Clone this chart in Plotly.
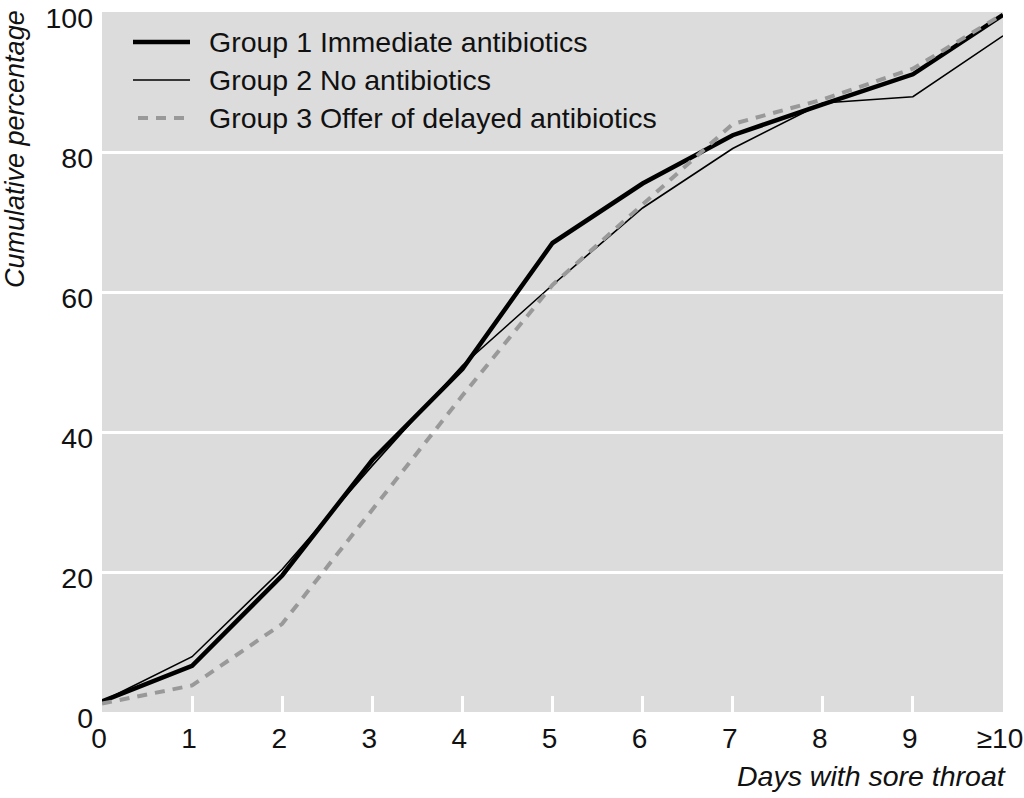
import plotly.graph_objects as go

days = [0, 1, 2, 3, 4, 5, 6, 7, 8, 9, 10]
x_tick_labels = ["0", "1", "2", "3", "4", "5", "6", "7", "8", "9", "≥10"]
group1 = [1.5, 6.6, 19.5, 36.0, 49.0, 67.0, 75.5, 82.4, 86.8, 91.1, 99.6]
group2 = [1.5, 7.9, 20.4, 35.2, 49.5, 61.0, 72.0, 80.5, 87.0, 87.9, 96.6]
group3 = [1.2, 3.8, 12.6, 29.0, 45.2, 61.0, 72.5, 84.0, 87.5, 91.9, 99.7]
names = ["Group 1 Immediate antibiotics", "Group 2 No antibiotics",
         "Group 3 Offer of delayed antibiotics"]
y_ticks = [0, 20, 40, 60, 80, 100]

FONT = "Liberation Sans, Arial, sans-serif"
styles = [
    dict(color="black", width=4.5, dash="solid"),
    dict(color="black", width=1.6, dash="solid"),
    dict(color="#999999", width=4, dash="10px,8px"),
]

fig = go.Figure()
for name, ys, st in zip(names, [group1, group2, group3], styles):
    fig.add_trace(go.Scatter(x=days, y=ys, mode="lines", name=name,
                             line=st, showlegend=False))

L = 102.0
W = 901.0
T = 12.0
H = 700.0
FIG_W = 1024
FIG_H = 798
def px2x(p):
    return (p - L) / W
def py2y(p):
    return (T + H - p) / H

leg_rows = [42, 80, 118]
leg_x0 = [133, 133, 138]
for name, st, ry, x0 in zip(names, styles, leg_rows, leg_x0):
    fig.add_shape(type="line", xref="paper", yref="paper",
                  x0=px2x(x0), x1=px2x(190), y0=py2y(ry), y1=py2y(ry),
                  line=dict(color=st["color"], width=st["width"], dash=st["dash"]))
    fig.add_annotation(xref="paper", yref="paper", x=px2x(207), y=py2y(ry),
                       xanchor="left", yanchor="middle", text=name, showarrow=False,
                       font=dict(family=FONT, size=28.5, color="#111111"))

fig.add_annotation(xref="paper", yref="paper", x=px2x(1008), y=py2y(776),
                   xanchor="right", yanchor="middle", text="<i>Days with sore throat</i>",
                   showarrow=False, font=dict(family=FONT, size=28.5, color="#111111"))
fig.add_annotation(xref="paper", yref="paper", x=px2x(15), y=py2y(149),
                   xanchor="center", yanchor="middle", text="<i>Cumulative percentage</i>",
                   textangle=-90, showarrow=False,
                   font=dict(family=FONT, size=27, color="#111111"))

fig.update_layout(
    width=FIG_W, height=FIG_H,
    margin=dict(l=L, r=FIG_W - L - W, t=T, b=FIG_H - T - H),
    paper_bgcolor="white", plot_bgcolor="#dcdcdc",
    font=dict(family=FONT, size=28.5, color="#111111"),
)
fig.update_xaxes(range=[0, 10], tickvals=days, ticktext=x_tick_labels,
                 showgrid=False, zeroline=False, showline=False,
                 ticks="inside", ticklen=16, tickwidth=3, tickcolor="white",
                 ticklabelstandoff=7, ticklabelshift=-3, tickfont=dict(size=28),
                 ticklabeloverflow="allow", automargin=False)
fig.update_yaxes(range=[0, 100], tickvals=y_ticks, showgrid=True,
                 gridcolor="white", gridwidth=3, zeroline=False, showline=False,
                 ticks="", ticklabelstandoff=8, ticklabelshift=6,
                 ticklabeloverflow="allow", automargin=False)

fig.write_html("out.html", config={"displayModeBar": False},
               post_script="document.body.style.margin='0';")
